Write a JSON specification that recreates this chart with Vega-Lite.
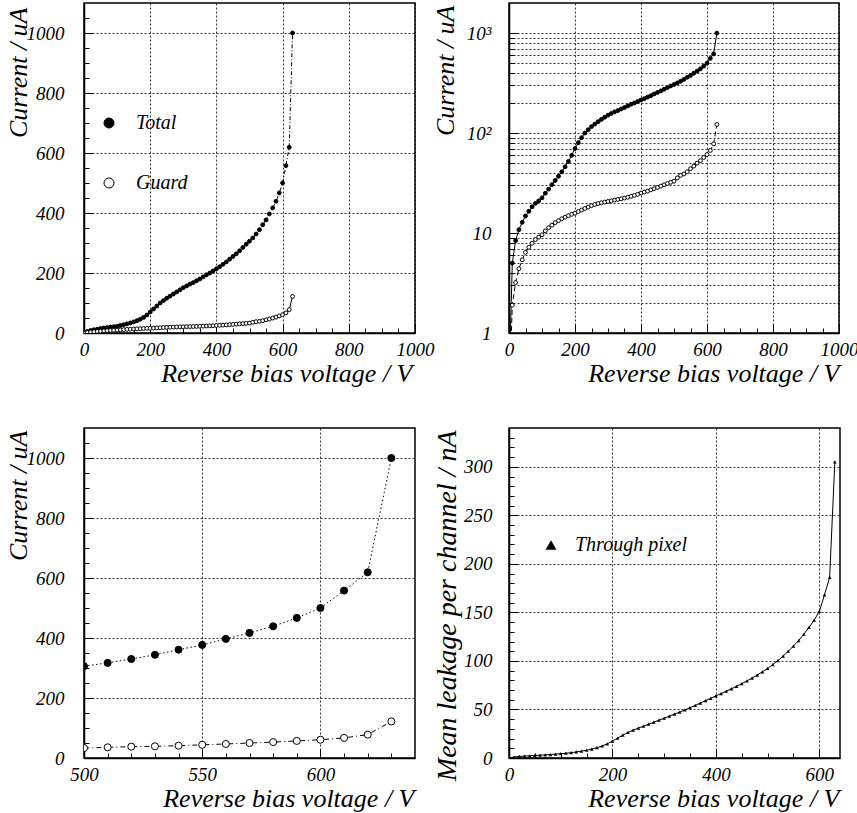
{
  "$schema": "https://vega.github.io/schema/vega-lite/v6.json",
  "background": "white",
  "padding": {"left": 4, "top": 2, "right": 0, "bottom": 0},
  "config": {
    "font": "Liberation Serif, Times New Roman, Times, DejaVu Serif, serif",
    "view": {"stroke": "black", "strokeWidth": 1.5},
    "axis": {
      "labelFont": "Liberation Serif, Times New Roman, Times, DejaVu Serif, serif", "labelFontStyle": "italic", "labelFontSize": 19, "labelColor": "black",
      "titleFont": "Liberation Serif, Times New Roman, Times, DejaVu Serif, serif", "titleFontStyle": "italic", "titleFontWeight": "normal", "titleFontSize": 26, "titleColor": "black",
      "domainColor": "black", "domainWidth": 1.5, "tickColor": "black", "tickWidth": 1,
      "gridColor": "black", "gridDash": [2, 2], "gridWidth": 1, "gridOpacity": 0.8,
      "labelFlush": false, "labelOverlap": false
    },
    "legend": {"labelFont": "Liberation Serif, Times New Roman, Times, DejaVu Serif, serif", "labelFontStyle": "italic", "labelFontSize": 20, "labelColor": "black"}
  },
  "datasets": {
    "iv": [
      {"V":0,"I":0.3,"series":"Total"},{"V":10,"I":5.0,"series":"Total"},{"V":20,"I":8.4,"series":"Total"},{"V":30,"I":10.8,"series":"Total"},{"V":40,"I":12.8,"series":"Total"},{"V":50,"I":14.8,"series":"Total"},{"V":60,"I":16.5,"series":"Total"},{"V":70,"I":18.3,"series":"Total"},{"V":80,"I":19.8,"series":"Total"},{"V":90,"I":21.0,"series":"Total"},
      {"V":100,"I":22.5,"series":"Total"},{"V":110,"I":25,"series":"Total"},{"V":120,"I":27.5,"series":"Total"},{"V":130,"I":30.5,"series":"Total"},{"V":140,"I":33.5,"series":"Total"},{"V":150,"I":37,"series":"Total"},{"V":160,"I":41,"series":"Total"},{"V":170,"I":46,"series":"Total"},{"V":180,"I":52,"series":"Total"},{"V":190,"I":60,"series":"Total"},
      {"V":200,"I":70,"series":"Total"},{"V":210,"I":80,"series":"Total"},{"V":220,"I":90,"series":"Total"},{"V":230,"I":100,"series":"Total"},{"V":240,"I":108,"series":"Total"},{"V":250,"I":116,"series":"Total"},{"V":260,"I":123,"series":"Total"},{"V":270,"I":130,"series":"Total"},{"V":280,"I":137,"series":"Total"},{"V":290,"I":144,"series":"Total"},
      {"V":300,"I":151,"series":"Total"},{"V":310,"I":157,"series":"Total"},{"V":320,"I":163,"series":"Total"},{"V":330,"I":168,"series":"Total"},{"V":340,"I":174,"series":"Total"},{"V":350,"I":180,"series":"Total"},{"V":360,"I":187,"series":"Total"},{"V":370,"I":194,"series":"Total"},{"V":380,"I":200,"series":"Total"},{"V":390,"I":207,"series":"Total"},
      {"V":400,"I":214,"series":"Total"},{"V":410,"I":221,"series":"Total"},{"V":420,"I":229,"series":"Total"},{"V":430,"I":237,"series":"Total"},{"V":440,"I":246,"series":"Total"},{"V":450,"I":255,"series":"Total"},{"V":460,"I":264,"series":"Total"},{"V":470,"I":274,"series":"Total"},{"V":480,"I":285,"series":"Total"},{"V":490,"I":296,"series":"Total"},
      {"V":500,"I":306,"series":"Total"},{"V":510,"I":317,"series":"Total"},{"V":520,"I":330,"series":"Total"},{"V":530,"I":344,"series":"Total"},{"V":540,"I":361,"series":"Total"},{"V":550,"I":377,"series":"Total"},{"V":560,"I":397,"series":"Total"},{"V":570,"I":417,"series":"Total"},{"V":580,"I":439,"series":"Total"},{"V":590,"I":467,"series":"Total"},
      {"V":600,"I":500,"series":"Total"},{"V":610,"I":558,"series":"Total"},{"V":620,"I":619,"series":"Total"},{"V":630,"I":1000,"series":"Total"},
      {"V":0,"I":0.2,"series":"Guard"},{"V":10,"I":1.9,"series":"Guard"},{"V":20,"I":3.2,"series":"Guard"},{"V":30,"I":4.4,"series":"Guard"},{"V":40,"I":5.4,"series":"Guard"},{"V":50,"I":6.4,"series":"Guard"},{"V":60,"I":7.2,"series":"Guard"},{"V":70,"I":7.9,"series":"Guard"},{"V":80,"I":8.6,"series":"Guard"},{"V":90,"I":9.1,"series":"Guard"},
      {"V":100,"I":9.6,"series":"Guard"},{"V":110,"I":10.5,"series":"Guard"},{"V":120,"I":11.3,"series":"Guard"},{"V":130,"I":12.0,"series":"Guard"},{"V":140,"I":12.7,"series":"Guard"},{"V":150,"I":13.3,"series":"Guard"},{"V":160,"I":13.9,"series":"Guard"},{"V":170,"I":14.4,"series":"Guard"},{"V":180,"I":14.9,"series":"Guard"},{"V":190,"I":15.4,"series":"Guard"},
      {"V":200,"I":15.8,"series":"Guard"},{"V":210,"I":16.4,"series":"Guard"},{"V":220,"I":17.0,"series":"Guard"},{"V":230,"I":17.6,"series":"Guard"},{"V":240,"I":18.2,"series":"Guard"},{"V":250,"I":18.8,"series":"Guard"},{"V":260,"I":19.3,"series":"Guard"},{"V":270,"I":19.7,"series":"Guard"},{"V":280,"I":20.1,"series":"Guard"},{"V":290,"I":20.4,"series":"Guard"},
      {"V":300,"I":20.7,"series":"Guard"},{"V":310,"I":21.0,"series":"Guard"},{"V":320,"I":21.4,"series":"Guard"},{"V":330,"I":21.7,"series":"Guard"},{"V":340,"I":22.0,"series":"Guard"},{"V":350,"I":22.4,"series":"Guard"},{"V":360,"I":22.8,"series":"Guard"},{"V":370,"I":23.3,"series":"Guard"},{"V":380,"I":23.8,"series":"Guard"},{"V":390,"I":24.4,"series":"Guard"},
      {"V":400,"I":25.1,"series":"Guard"},{"V":410,"I":25.7,"series":"Guard"},{"V":420,"I":26.3,"series":"Guard"},{"V":430,"I":27.0,"series":"Guard"},{"V":440,"I":27.8,"series":"Guard"},{"V":450,"I":28.6,"series":"Guard"},{"V":460,"I":29.5,"series":"Guard"},{"V":470,"I":30.4,"series":"Guard"},{"V":480,"I":31.3,"series":"Guard"},{"V":490,"I":32.2,"series":"Guard"},
      {"V":500,"I":33.0,"series":"Guard"},{"V":510,"I":35.6,"series":"Guard"},{"V":520,"I":37.8,"series":"Guard"},{"V":530,"I":39.0,"series":"Guard"},{"V":540,"I":41.0,"series":"Guard"},{"V":550,"I":44.0,"series":"Guard"},{"V":560,"I":46.7,"series":"Guard"},{"V":570,"I":50.0,"series":"Guard"},{"V":580,"I":53.0,"series":"Guard"},{"V":590,"I":57.0,"series":"Guard"},
      {"V":600,"I":61.0,"series":"Guard"},{"V":610,"I":67.0,"series":"Guard"},{"V":620,"I":78.0,"series":"Guard"},{"V":630,"I":122.0,"series":"Guard"}
    ],
    "leak": [
      {"V":0,"L":0.2,"series":"Through pixel"},{"V":10,"L":1.0,"series":"Through pixel"},{"V":20,"L":1.6,"series":"Through pixel"},{"V":30,"L":2.0,"series":"Through pixel"},{"V":40,"L":2.3,"series":"Through pixel"},{"V":50,"L":2.6,"series":"Through pixel"},{"V":60,"L":2.9,"series":"Through pixel"},{"V":70,"L":3.2,"series":"Through pixel"},{"V":80,"L":3.6,"series":"Through pixel"},{"V":90,"L":4.0,"series":"Through pixel"},
      {"V":100,"L":4.4,"series":"Through pixel"},{"V":110,"L":4.9,"series":"Through pixel"},{"V":120,"L":5.5,"series":"Through pixel"},{"V":130,"L":6.3,"series":"Through pixel"},{"V":140,"L":7.1,"series":"Through pixel"},{"V":150,"L":8.0,"series":"Through pixel"},{"V":160,"L":9.2,"series":"Through pixel"},{"V":170,"L":10.6,"series":"Through pixel"},{"V":180,"L":12.4,"series":"Through pixel"},{"V":190,"L":14.6,"series":"Through pixel"},
      {"V":200,"L":17.5,"series":"Through pixel"},{"V":210,"L":20.5,"series":"Through pixel"},{"V":220,"L":23.5,"series":"Through pixel"},{"V":230,"L":26.3,"series":"Through pixel"},{"V":240,"L":28.7,"series":"Through pixel"},{"V":250,"L":30.8,"series":"Through pixel"},{"V":260,"L":32.8,"series":"Through pixel"},{"V":270,"L":34.8,"series":"Through pixel"},{"V":280,"L":36.9,"series":"Through pixel"},{"V":290,"L":39.0,"series":"Through pixel"},
      {"V":300,"L":41.0,"series":"Through pixel"},{"V":310,"L":43.1,"series":"Through pixel"},{"V":320,"L":45.2,"series":"Through pixel"},{"V":330,"L":47.3,"series":"Through pixel"},{"V":340,"L":49.5,"series":"Through pixel"},{"V":350,"L":51.8,"series":"Through pixel"},{"V":360,"L":54.2,"series":"Through pixel"},{"V":370,"L":56.6,"series":"Through pixel"},{"V":380,"L":59.0,"series":"Through pixel"},{"V":390,"L":61.5,"series":"Through pixel"},
      {"V":400,"L":64.0,"series":"Through pixel"},{"V":410,"L":66.4,"series":"Through pixel"},{"V":420,"L":68.8,"series":"Through pixel"},{"V":430,"L":71.3,"series":"Through pixel"},{"V":440,"L":73.9,"series":"Through pixel"},{"V":450,"L":76.6,"series":"Through pixel"},{"V":460,"L":79.4,"series":"Through pixel"},{"V":470,"L":82.4,"series":"Through pixel"},{"V":480,"L":85.5,"series":"Through pixel"},{"V":490,"L":88.8,"series":"Through pixel"},
      {"V":500,"L":92.3,"series":"Through pixel"},{"V":510,"L":96.2,"series":"Through pixel"},{"V":520,"L":100.4,"series":"Through pixel"},{"V":530,"L":105.0,"series":"Through pixel"},{"V":540,"L":110.0,"series":"Through pixel"},{"V":550,"L":115.3,"series":"Through pixel"},{"V":560,"L":121.0,"series":"Through pixel"},{"V":570,"L":127.5,"series":"Through pixel"},{"V":580,"L":134.5,"series":"Through pixel"},{"V":590,"L":142.0,"series":"Through pixel"},
      {"V":600,"L":151.0,"series":"Through pixel"},{"V":610,"L":168.0,"series":"Through pixel"},{"V":620,"L":186.0,"series":"Through pixel"},{"V":630,"L":305.0,"series":"Through pixel"}
    ]
  },
  "columns": 2,
  "spacing": {"row": 95, "column": 94},
  "bounds": "flush",
  "resolve": {"scale": {"fill": "independent", "shape": "independent"}, "legend": {"fill": "independent", "shape": "independent"}},
  "concat": [
    {
      "width": 331, "height": 330,
      "data": {"name": "iv"},
      "resolve": {"axis": {"x": "independent", "y": "independent"}},
      "layer": [
        {
          "transform": [{"filter": "datum.series === 'Total'"}],
          "mark": {"type": "line", "strokeWidth": 1, "color": "black", "strokeDash": [4, 2, 1, 2], "clip": true},
          "encoding": {
            "x": {"field": "V", "type": "quantitative", "scale": {"domain": [0, 1000], "nice": false, "zero": false},
              "axis": {"orient": "bottom", "values": [0, 200, 400, 600, 800, 1000], "format": "d", "grid": true, "tickSize": -9, "labelPadding": 31, "labelBaseline": "alphabetic",
                "title": "Reverse bias voltage / V", "titleAlign": "right", "titleAnchor": "end", "titleX": 328, "titleY": 48, "titleBaseline": "alphabetic"}},
            "y": {"field": "I", "type": "quantitative", "scale": {"domain": [0, 1100], "nice": false},
              "axis": {"orient": "left", "values": [0, 200, 400, 600, 800, 1000], "format": "d", "grid": true, "tickSize": -9, "labelPadding": 29,
                "title": "Current / uA", "titleAngle": 270, "titleAlign": "right", "titleAnchor": "end", "titleX": -58, "titleY": 4, "titleBaseline": "alphabetic"}}
          }
        },
        {
          "transform": [{"filter": "datum.series === 'Guard'"}],
          "mark": {"type": "line", "strokeWidth": 1, "color": "black", "clip": true},
          "encoding": {
            "x": {"field": "V", "type": "quantitative", "axis": null},
            "y": {"field": "I", "type": "quantitative", "axis": null}
          }
        },
        {
          "mark": {"type": "point", "shape": "circle", "filled": true, "size": 15, "stroke": "black", "strokeWidth": 1, "opacity": 1, "clip": true},
          "encoding": {
            "x": {"field": "V", "type": "quantitative", "axis": {"orient": "bottom", "values": [50, 100, 150, 250, 300, 350, 450, 500, 550, 650, 700, 750, 850, 900, 950], "grid": false, "labels": false, "domain": false, "tickSize": -5, "title": null}},
            "y": {"field": "I", "type": "quantitative", "axis": {"orient": "left", "values": [50, 100, 150, 250, 300, 350, 450, 500, 550, 650, 700, 750, 850, 900, 950, 1050], "grid": false, "labels": false, "domain": false, "tickSize": -5, "title": null}},
            "fill": {"field": "series", "type": "nominal", "scale": {"domain": ["Total", "Guard"], "range": ["black", "white"]},
              "legend": {"orient": "none", "legendX": 15, "legendY": 110, "title": null, "symbolType": "circle", "symbolSize": 100, "symbolStrokeColor": "black", "symbolStrokeWidth": 1, "labelOffset": 17, "rowPadding": 40, "direction": "vertical"}}
          }
        }
      ]
    },
    {
      "width": 330, "height": 330,
      "data": {"name": "iv"},
      "resolve": {"axis": {"x": "independent", "y": "independent"}},
      "layer": [
        {
          "transform": [{"filter": "datum.series === 'Total'"}],
          "mark": {"type": "line", "strokeWidth": 1, "color": "black", "clip": true},
          "encoding": {
            "x": {"field": "V", "type": "quantitative", "scale": {"domain": [0, 1000], "nice": false, "zero": false},
              "axis": {"orient": "bottom", "values": [0, 200, 400, 600, 800, 1000], "format": "d", "grid": true, "tickSize": -9, "labelPadding": 31, "labelBaseline": "alphabetic",
                "title": "Reverse bias voltage / V", "titleAlign": "right", "titleAnchor": "end", "titleX": 330, "titleY": 48, "titleBaseline": "alphabetic"}},
            "y": {"field": "I", "type": "quantitative", "scale": {"type": "log", "domain": [1, 2000], "nice": false},
              "axis": {"orient": "left", "values": [1, 10, 100, 1000], "grid": true, "tickSize": -9, "labelPadding": 27,
                "labelExpr": "datum.value == 1 ? '1' : datum.value == 10 ? '10' : datum.value == 100 ? '10²' : '10³'",
                "title": "Current / uA", "titleAngle": 270, "titleAlign": "right", "titleAnchor": "end", "titleX": -56, "titleY": 2, "titleBaseline": "alphabetic"}}
          }
        },
        {
          "transform": [{"filter": "datum.series === 'Guard'"}],
          "mark": {"type": "line", "strokeWidth": 1, "color": "black", "strokeDash": [5, 3], "clip": true},
          "encoding": {
            "x": {"field": "V", "type": "quantitative", "axis": null},
            "y": {"field": "I", "type": "quantitative", "axis": null}
          }
        },
        {
          "mark": {"type": "point", "shape": "circle", "filled": true, "size": 15, "stroke": "black", "strokeWidth": 1, "opacity": 1, "clip": true},
          "encoding": {
            "x": {"field": "V", "type": "quantitative", "axis": {"orient": "bottom", "values": [50, 100, 150, 250, 300, 350, 450, 500, 550, 650, 700, 750, 850, 900, 950], "grid": false, "labels": false, "domain": false, "tickSize": -5, "title": null}},
            "y": {"field": "I", "type": "quantitative", "axis": {"orient": "left", "values": [2, 3, 4, 5, 6, 7, 8, 9, 20, 30, 40, 50, 60, 70, 80, 90, 200, 300, 400, 500, 600, 700, 800, 900], "grid": true, "labels": false, "domain": false, "tickSize": -5, "title": null}},
            "fill": {"field": "series", "type": "nominal", "scale": {"domain": ["Total", "Guard"], "range": ["black", "white"]}, "legend": null}
          }
        }
      ]
    },
    {
      "width": 331, "height": 330,
      "data": {"name": "iv"},
      "transform": [{"filter": "datum.V >= 490"}],
      "resolve": {"axis": {"x": "independent", "y": "independent"}},
      "layer": [
        {
          "transform": [{"filter": "datum.series === 'Total'"}],
          "mark": {"type": "line", "strokeWidth": 1, "color": "black", "strokeDash": [1.5, 2.5], "clip": true},
          "encoding": {
            "x": {"field": "V", "type": "quantitative", "scale": {"domain": [500, 640], "nice": false, "zero": false},
              "axis": {"orient": "bottom", "values": [500, 550, 600], "format": "d", "grid": true, "tickSize": -9, "labelPadding": 31, "labelBaseline": "alphabetic",
                "title": "Reverse bias voltage / V", "titleAlign": "right", "titleAnchor": "end", "titleX": 330, "titleY": 48, "titleBaseline": "alphabetic"}},
            "y": {"field": "I", "type": "quantitative", "scale": {"domain": [0, 1100], "nice": false},
              "axis": {"orient": "left", "values": [0, 200, 400, 600, 800, 1000], "format": "d", "grid": true, "tickSize": -9, "labelPadding": 29,
                "title": "Current / uA", "titleAngle": 270, "titleAlign": "right", "titleAnchor": "end", "titleX": -58, "titleY": 2, "titleBaseline": "alphabetic"}}
          }
        },
        {
          "transform": [{"filter": "datum.series === 'Guard'"}],
          "mark": {"type": "line", "strokeWidth": 1, "color": "black", "strokeDash": [5, 3, 1, 3], "clip": true},
          "encoding": {
            "x": {"field": "V", "type": "quantitative", "axis": null},
            "y": {"field": "I", "type": "quantitative", "axis": null}
          }
        },
        {
          "mark": {"type": "point", "shape": "circle", "filled": true, "size": 50, "stroke": "black", "strokeWidth": 1, "opacity": 1, "clip": true},
          "encoding": {
            "x": {"field": "V", "type": "quantitative", "axis": {"orient": "bottom", "values": [510, 520, 530, 540, 560, 570, 580, 590, 610, 620, 630], "grid": false, "labels": false, "domain": false, "tickSize": -5, "title": null}},
            "y": {"field": "I", "type": "quantitative", "axis": {"orient": "left", "values": [50, 100, 150, 250, 300, 350, 450, 500, 550, 650, 700, 750, 850, 900, 950, 1050], "grid": false, "labels": false, "domain": false, "tickSize": -5, "title": null}},
            "fill": {"field": "series", "type": "nominal", "scale": {"domain": ["Total", "Guard"], "range": ["black", "white"]}, "legend": null}
          }
        }
      ]
    },
    {
      "width": 331, "height": 330,
      "data": {"name": "leak"},
      "resolve": {"axis": {"x": "independent", "y": "independent"}},
      "layer": [
        {
          "mark": {"type": "line", "strokeWidth": 1, "color": "black", "clip": true},
          "encoding": {
            "x": {"field": "V", "type": "quantitative", "scale": {"domain": [0, 640], "nice": false, "zero": false},
              "axis": {"orient": "bottom", "values": [0, 200, 400, 600], "format": "d", "grid": true, "tickSize": -9, "labelPadding": 31, "labelBaseline": "alphabetic",
                "title": "Reverse bias voltage / V", "titleAlign": "right", "titleAnchor": "end", "titleX": 330, "titleY": 48, "titleBaseline": "alphabetic"}},
            "y": {"field": "L", "type": "quantitative", "scale": {"domain": [0, 340], "nice": false},
              "axis": {"orient": "left", "values": [0, 50, 100, 150, 200, 250, 300], "format": "d", "grid": true, "tickSize": -9, "labelPadding": 26,
                "title": "Mean leakage per channel / nA", "titleFontSize": 28, "titleAngle": 270, "titleAlign": "right", "titleAnchor": "end", "titleX": -54, "titleY": 2, "titleBaseline": "alphabetic"}}
          }
        },
        {
          "mark": {"type": "point", "filled": true, "size": 14, "color": "black", "opacity": 1, "clip": true},
          "encoding": {
            "x": {"field": "V", "type": "quantitative", "axis": {"orient": "bottom", "values": [50, 100, 150, 250, 300, 350, 450, 500, 550], "grid": false, "labels": false, "domain": false, "tickSize": -5, "title": null}},
            "y": {"field": "L", "type": "quantitative", "axis": {"orient": "left", "values": [10, 20, 30, 40, 60, 70, 80, 90, 110, 120, 130, 140, 160, 170, 180, 190, 210, 220, 230, 240, 260, 270, 280, 290, 310, 320, 330], "grid": false, "labels": false, "domain": false, "tickSize": -5, "title": null}},
            "shape": {"field": "series", "type": "nominal", "scale": {"domain": ["Through pixel"], "range": ["triangle-up"]},
              "legend": {"orient": "none", "legendX": 32, "legendY": 107, "title": null, "symbolSize": 120, "symbolFillColor": "black", "symbolStrokeColor": "black", "labelOffset": 14}}
          }
        }
      ]
    }
  ]
}
